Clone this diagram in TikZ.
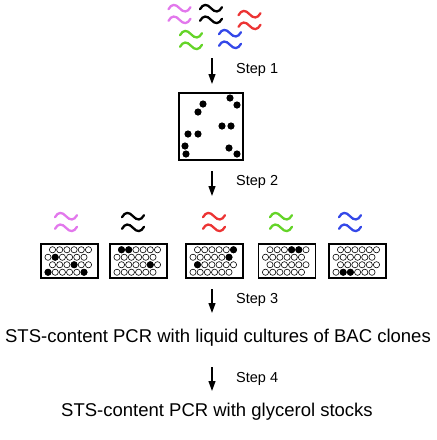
\documentclass[tikz,border=0pt]{standalone}
\usepackage{fontspec}
\setmainfont{Liberation Sans}
\usepackage{tikz}
\usetikzlibrary{arrows.meta}

\definecolor{clonepink}{RGB}{226,120,236}
\definecolor{clonered}{RGB}{236,52,52}
\definecolor{clonegreen}{RGB}{100,212,40}
\definecolor{cloneblue}{RGB}{52,72,232}

\tikzset{
  wavestroke/.style={line width=2.3pt, line cap=round},
  plateframe/.style={draw, line width=1.7pt, inner sep=0pt, minimum width=57pt, minimum height=34pt},
  well/.style={line width=0.6pt},
  steparrow/.style={line width=1.2pt, -{Triangle[length=10pt,width=7pt]}},
  steplabel/.style={anchor=base west, inner sep=0pt, font=\fontsize{14.5}{17}\selectfont},
  ststext/.style={anchor=base, inner sep=0pt, font=\fontsize{18.5}{22}\selectfont}
}

% two stacked tildes: x, y, colour
\newcommand{\clonewave}[3]{%
  \foreach \wd in {-5.8,5.8}
    \draw[wavestroke,#3] (#1-11,#2+\wd+1) .. controls (#1-8,#2+\wd-4.5) and (#1-4,#2+\wd-4.5) .. (#1,#2+\wd)
      .. controls (#1+4,#2+\wd+4.5) and (#1+8,#2+\wd+4.5) .. (#1+11,#2+\wd-1);
}

% plate of 4x6 wells: name, x, y, filled wells (row/col)
\newcommand{\wellplate}[4]{%
  \node[plateframe] (#1) at (#2,#3) {};
  \foreach \pr in {1,...,4} \foreach \pc in {1,...,6} {
    \pgfmathsetmacro\wx{#2+(\pc-1)*7.2+(mod(\pr,2)==1 ? -17 : -21.5)}
    \pgfmathsetmacro\wy{#3-18.75+7.5*\pr}
    \draw[well] (\wx,\wy) circle [radius=3.1pt];
  }
  \foreach \pr/\pc in {#4} {
    \pgfmathsetmacro\wx{#2+(\pc-1)*7.2+(mod(\pr,2)==1 ? -17 : -21.5)}
    \pgfmathsetmacro\wy{#3-18.75+7.5*\pr}
    \fill (\wx,\wy) circle [radius=3.5pt];
  }
}

\begin{document}
\begin{tikzpicture}[x=1pt,y=-1pt]
\useasboundingbox (0,0) rectangle (437,440);

%Waves: pooled clones
\clonewave{179.5}{14}{clonepink}
\clonewave{211}{14}{black}
\clonewave{249.5}{20}{clonered}
\clonewave{191}{40}{clonegreen}
\clonewave{230}{39}{cloneblue}

%Shape: Square with colonies
\node [draw, line width=1.5pt, minimum width=64pt, minimum height=67pt, inner sep=0pt] (grid) at (211,126.5) {};
\foreach \px/\py in {203/104, 198/112, 230/98, 237/105, 222/126, 231/126, 188/134, 198/134, 185/146, 186/154, 229/148, 237/154}
  \fill (\px,\py) circle [radius=3.6pt];

%Waves above plates
\clonewave{66}{222}{clonepink}
\clonewave{133}{222}{black}
\clonewave{214}{222}{clonered}
\clonewave{281}{222}{clonegreen}
\clonewave{350}{222}{cloneblue}

%Shape: Plates
\wellplate{p1}{69.5}{261}{2/2,3/4,4/1,4/6}
\wellplate{p2}{138.5}{261}{1/1,1/2,3/5}
\wellplate{p3}{214.5}{261}{1/6,2/6,3/1}
\wellplate{p4}{287}{261}{1/4,1/5}
\wellplate{p5}{357.5}{261}{4/2,4/3}

%Straight Lines: steps
\coordinate (a1) at (212,58);
\coordinate (b1) at (212,84);
\coordinate (a2) at (212,171);
\coordinate (b2) at (212,196);
\coordinate (a3) at (212,289);
\coordinate (b3) at (212,313);
\coordinate (a4) at (212,367);
\coordinate (b4) at (212,391);
\draw [steparrow] (a1) -- (b1);
\draw [steparrow] (a2) -- (b2);
\draw [steparrow] (a3) -- (b3);
\draw [steparrow] (a4) -- (b4);

% Text Node
\node [steplabel] (s1) at (236,73) {Step 1};
% Text Node
\node [steplabel] (s2) at (236,185) {Step 2};
% Text Node
\node [steplabel] (s3) at (236,303) {Step 3};
% Text Node
\node [steplabel] (s4) at (236,382) {Step 4};
% Text Node
\node [ststext] (pcr1) at (218,342) {STS-content PCR with liquid cultures of BAC clones};
% Text Node
\node [ststext] (pcr2) at (217,416) {STS-content PCR with glycerol stocks};

\end{tikzpicture}
\end{document}
